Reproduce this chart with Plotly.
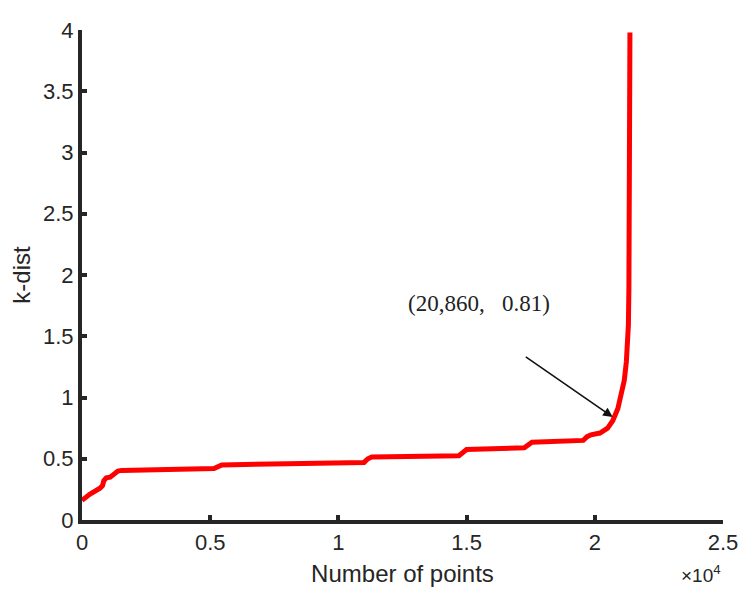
import plotly.graph_objects as go

# Data
num_points = [0, 300, 700, 800, 850, 950, 1100, 1250, 1400, 1550, 3000, 5150, 5300, 5450,
              8000, 11000, 11150, 11300, 14700, 14850, 15000, 17250, 17400, 17550,
              19550, 19700, 19850, 20200, 20500, 20700, 20900, 21050, 21150, 21230,
              21280, 21310, 21330, 21345, 21360, 21370]
k_dist = [0.16, 0.21, 0.26, 0.28, 0.32, 0.345, 0.35, 0.38, 0.40, 0.405, 0.41, 0.42, 0.435, 0.45,
          0.46, 0.47, 0.50, 0.515, 0.525, 0.555, 0.575, 0.59, 0.615, 0.635,
          0.65, 0.68, 0.695, 0.71, 0.75, 0.81, 0.91, 1.04, 1.14, 1.29,
          1.44, 1.59, 1.89, 2.49, 3.19, 3.98]

x_tick_vals = [0, 5000, 10000, 15000, 20000, 25000]
x_tick_text = ["0", "0.5", "1", "1.5", "2", "2.5"]
y_tick_vals = [0, 0.5, 1, 1.5, 2, 2.5, 3, 3.5, 4]
y_tick_text = ["0", "0.5", "1", "1.5", "2", "2.5", "3", "3.5", "4"]

annot_text = "(20,860,   0.81)"
annot_pos = (15500, 1.77)
arrow_tip = (20700, 0.84)
arrow_tail = (17250, 1.34)

SANS = "Liberation Sans, Arial, Helvetica"
SERIF = "Liberation Serif, Times New Roman, serif"
INK = "#262626"

fig = go.Figure()
fig.add_trace(go.Scatter(x=num_points, y=k_dist, mode="lines",
                         line=dict(color="#ff0000", width=5), showlegend=False,
                         hoverinfo="skip"))

axis_common = dict(showgrid=False, zeroline=False, showline=True, linecolor=INK,
                   linewidth=4, ticks="inside", ticklen=5, tickwidth=4, tickcolor=INK,
                   tickfont=dict(family=SANS, size=22, color=INK), mirror=False,
                   ticklabeloverflow="allow")

fig.update_xaxes(range=[0, 25000], tickvals=x_tick_vals, ticktext=x_tick_text,
                 title=dict(text="Number of points", standoff=12,
                            font=dict(family=SANS, size=24, color=INK)),
                 **axis_common)
fig.update_yaxes(range=[0, 4], tickvals=y_tick_vals, ticktext=y_tick_text,
                 title=dict(text="k-dist", standoff=8,
                            font=dict(family=SANS, size=24, color=INK)),
                 **axis_common)

fig.add_annotation(x=arrow_tip[0], y=arrow_tip[1], ax=arrow_tail[0], ay=arrow_tail[1],
                   xref="x", yref="y", axref="x", ayref="y", text="", showarrow=True,
                   arrowhead=2, arrowsize=1.2, arrowwidth=1.6, arrowcolor="#111111")
fig.add_annotation(x=annot_pos[0], y=annot_pos[1], xref="x", yref="y",
                   text=annot_text, showarrow=False,
                   font=dict(family=SERIF, size=23, color="#222222"))
fig.add_annotation(x=1, y=0, xref="paper", yref="paper", xanchor="right", yanchor="top",
                   yshift=-40, text="×10<sup>4</sup>", showarrow=False,
                   font=dict(family=SANS, size=19, color=INK))

# page body adds an 8px offset, so the figure is sized to fit the window
fig.update_layout(width=741, height=586, margin=dict(l=70, r=26, t=10, b=72),
                  plot_bgcolor="white", paper_bgcolor="white")

fig.write_html("out.html")
